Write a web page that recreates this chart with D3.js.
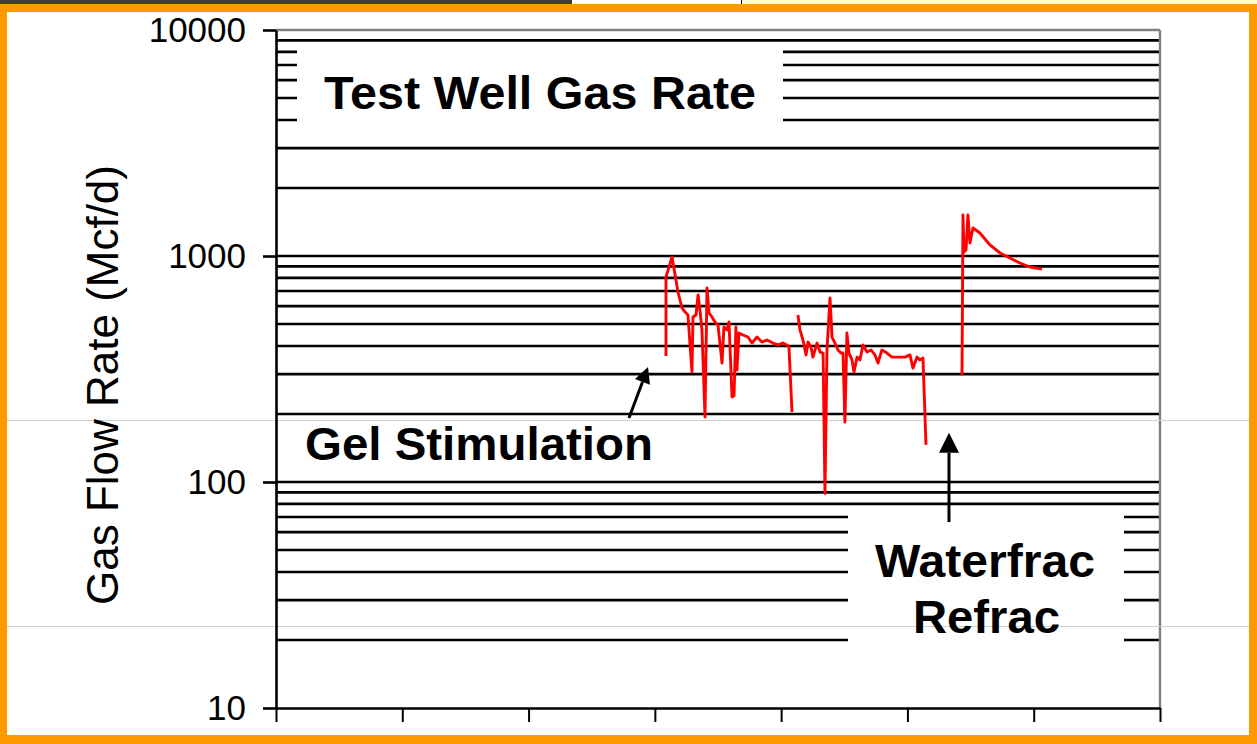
<!DOCTYPE html>
<html>
<head>
<meta charset="utf-8">
<script src="https://cdn.jsdelivr.net/npm/d3@7"></script>
<style>
  html, body { margin: 0; padding: 0; background: #fff; overflow: hidden; }
  svg { display: block; }
</style>
</head>
<body>
<div id="chart"></div>
<script>
// Test well gas rate (Mcf/d), x is days on an unlabelled axis
const dayTicks = [0, 100, 200, 300, 400, 500, 600, 700];
const rateTicks = [10, 100, 1000, 10000];

// After the gel stimulation
const gelDays1 = [308.8, 308.8, 313.6, 316.7, 318.3, 321.5, 323.9, 326.2, 329.4, 330.2,
                  332.6, 334.2, 335.7, 337.3, 339.7, 341.3, 342.9, 345.2, 347.6, 350.0,
                  353.2, 354.7, 357.1, 358.7, 361.1, 362.7, 364.2, 365.0, 366.6, 369.8,
                  373.7, 376.9, 380.9, 384.8, 388.8, 393.5, 397.5, 401.5, 404.6, 406.2, 408.6];
const gelRates1 = [361, 807, 991, 783, 693, 589, 565, 548, 307, 537,
                   548, 672, 577, 471, 194, 722, 560, 537, 511, 495,
                   336, 485, 471, 511, 238, 241, 485, 313, 456, 447,
                   438, 412, 438, 416, 425, 412, 404, 412, 404, 396, 204];

const gelDays2 = [413.3, 414.9, 417.3, 419.7, 421.3, 423.6, 425.2, 428.4, 430.8, 433.2,
                  434.7, 436.3, 438.7, 440.3, 442.6, 445.0, 447.4, 449.0, 450.5, 452.1,
                  453.7, 456.1, 457.7, 460.1, 462.4, 464.8, 468.0, 471.1, 474.3, 476.7,
                  479.8, 483.8, 487.8, 492.5, 498.1, 502.0, 504.4, 507.6, 509.9, 512.3, 514.7];
const gelRates2 = [548, 471, 425, 365, 416, 396, 357, 412, 376, 372,
                   89, 384, 652, 438, 412, 384, 372, 372, 184, 456,
                   372, 347, 307, 357, 347, 404, 376, 384, 365, 336,
                   384, 372, 357, 357, 357, 365, 319, 357, 347, 354, 146];

// After the waterfrac refrac
const refracDays = [543.2, 544.0, 544.8, 546.4, 547.9, 549.5, 551.9, 557.4, 565.4, 573.3,
                    581.2, 589.1, 597.0, 606.5];
const refracRates = [297, 1519, 1041, 1063, 1519, 1141, 1330, 1264, 1119, 1031,
                     980, 931, 894, 876];

const W = 1257, H = 744;
const margin = { top: 30, right: 97, bottom: 36, left: 276 };
const font = "'Liberation Sans', Arial, Helvetica, sans-serif";
const orange = "#fe9900";

const svg = d3.select("#chart").append("svg")
    .attr("width", W)
    .attr("height", H)
    .style("font-family", font);

svg.append("rect").attr("width", W).attr("height", H).attr("fill", "#fff");

const x = d3.scaleLinear().domain([0, 700]).range([margin.left, W - margin.right]);
const y = d3.scaleLog().domain([10, 10000]).range([H - margin.bottom, margin.top]);

// Gridlines at every log step (2..9 of each decade)
const gridRates = [];
[10, 100, 1000].forEach(dec => {
    for (let m = 2; m <= 9; m++) gridRates.push(dec * m);
});
gridRates.push(100, 1000);

svg.append("g").selectAll("line")
    .data(gridRates)
    .enter().append("line")
    .attr("x1", x(0)).attr("x2", x(700))
    .attr("y1", d => y(d)).attr("y2", d => y(d))
    .attr("stroke", "#000")
    .attr("stroke-width", 2.6);

// Plot border top and right in grey
svg.append("line")
    .attr("x1", x(0)).attr("x2", x(700))
    .attr("y1", y(10000)).attr("y2", y(10000))
    .attr("stroke", "#808080").attr("stroke-width", 2.4);
svg.append("line")
    .attr("x1", x(700)).attr("x2", x(700))
    .attr("y1", y(10000)).attr("y2", y(10))
    .attr("stroke", "#808080").attr("stroke-width", 2.4);

// White boxes behind the text labels
svg.append("rect")
    .attr("x", 297).attr("y", 46).attr("width", 486).attr("height", 86)
    .attr("fill", "#fff");
svg.append("rect")
    .attr("x", 848).attr("y", 511).attr("width", 276).attr("height", 189)
    .attr("fill", "#fff");

// Faint screen lines across the whole slide
svg.append("g").selectAll("line")
    .data([420, 626])
    .enter().append("line")
    .attr("x1", 0).attr("x2", W)
    .attr("y1", d => d + 0.5).attr("y2", d => d + 0.5)
    .attr("stroke", "#cfcfcf").attr("stroke-width", 1);

// Axes
const xAxis = svg.append("g")
    .attr("transform", `translate(0,${y(10)})`)
    .call(d3.axisBottom(x).tickValues(dayTicks).tickSize(14).tickSizeOuter(0).tickFormat(""));
xAxis.select(".domain").attr("stroke", "#000").attr("stroke-width", 2.6);
xAxis.selectAll(".tick line").attr("stroke", "#000").attr("stroke-width", 2);

const yAxis = svg.append("g")
    .attr("transform", `translate(${x(0)},0)`)
    .call(d3.axisLeft(y).tickValues(rateTicks).tickSize(13).tickSizeOuter(0)
        .tickPadding(17).tickFormat(d3.format("d")));
yAxis.select(".domain").attr("stroke", "#000").attr("stroke-width", 2.6);
yAxis.selectAll(".tick line").attr("stroke", "#000").attr("stroke-width", 2.6);
yAxis.selectAll(".tick text")
    .attr("fill", "#000")
    .style("font-family", font)
    .style("font-size", "35px");

svg.append("text")
    .attr("transform", `translate(118,385) rotate(-90)`)
    .attr("text-anchor", "middle")
    .attr("textLength", 440)
    .attr("lengthAdjust", "spacing")
    .style("font-size", "44px")
    .text("Gas Flow Rate (Mcf/d)");

// Rate line, one path per production period
const line = d3.line()
    .x(d => x(d[0]))
    .y(d => y(d[1]));

const periods = [
    d3.zip(gelDays1, gelRates1),
    d3.zip(gelDays2, gelRates2),
    d3.zip(refracDays, refracRates)
];

svg.append("g").selectAll("path")
    .data(periods)
    .enter().append("path")
    .attr("d", line)
    .attr("fill", "none")
    .attr("stroke", "#ff0000")
    .attr("stroke-width", 2.9)
    .attr("stroke-linejoin", "round");

// Labels
svg.append("text")
    .attr("x", 324).attr("y", 109)
    .attr("textLength", 432).attr("lengthAdjust", "spacingAndGlyphs")
    .style("font-size", "46px").style("font-weight", "bold")
    .text("Test Well Gas Rate");

svg.append("text")
    .attr("x", 305).attr("y", 460)
    .attr("textLength", 348).attr("lengthAdjust", "spacingAndGlyphs")
    .style("font-size", "46px").style("font-weight", "bold")
    .text("Gel Stimulation");

svg.append("text")
    .attr("x", 875).attr("y", 577)
    .attr("textLength", 220).attr("lengthAdjust", "spacingAndGlyphs")
    .style("font-size", "46px").style("font-weight", "bold")
    .text("Waterfrac");

svg.append("text")
    .attr("x", 913).attr("y", 633)
    .attr("textLength", 147).attr("lengthAdjust", "spacingAndGlyphs")
    .style("font-size", "46px").style("font-weight", "bold")
    .text("Refrac");

// Arrows pointing at the treatments: [fromDay, fromRate, toDay, toRate, headSize]
const arrows = [
    [279.5, 192, 294.6, 323, 16],
    [532.9, 66.5, 532.9, 165, 20]
];

arrows.forEach(a => {
    const x1 = x(a[0]), y1 = y(a[1]), x2 = x(a[2]), y2 = y(a[3]), s = a[4];
    const ang = Math.atan2(y2 - y1, x2 - x1);
    const bx = x2 - Math.cos(ang) * s, by = y2 - Math.sin(ang) * s;
    const px = -Math.sin(ang) * s / 2, py = Math.cos(ang) * s / 2;
    svg.append("line")
        .attr("x1", x1).attr("y1", y1).attr("x2", bx).attr("y2", by)
        .attr("stroke", "#000").attr("stroke-width", 3);
    svg.append("path")
        .attr("d", `M${x2},${y2}L${bx + px},${by + py}L${bx - px},${by - py}Z`)
        .attr("fill", "#000");
});

// Slide frame around the picture
const frame = svg.append("g");
frame.append("rect").attr("x", 0).attr("y", 0).attr("width", W).attr("height", 12).attr("fill", orange);
frame.append("rect").attr("x", 0).attr("y", 0).attr("width", 7).attr("height", H).attr("fill", orange);
frame.append("rect").attr("x", 1249).attr("y", 0).attr("width", 8).attr("height", H).attr("fill", orange);
frame.append("rect").attr("x", 0).attr("y", 735).attr("width", W).attr("height", 9).attr("fill", orange);
frame.append("rect").attr("x", 0).attr("y", 0).attr("width", 572).attr("height", 4).attr("fill", "#3d3d3d");
frame.append("rect").attr("x", 572).attr("y", 0).attr("width", 169).attr("height", 4).attr("fill", "#fff");
frame.append("rect").attr("x", 741).attr("y", 0).attr("width", 516).attr("height", 4).attr("fill", "#ffffcc");
frame.append("line").attr("x1", 741.5).attr("x2", 741.5).attr("y1", 0).attr("y2", 4).attr("stroke", "#000");
</script>
</body>
</html>
